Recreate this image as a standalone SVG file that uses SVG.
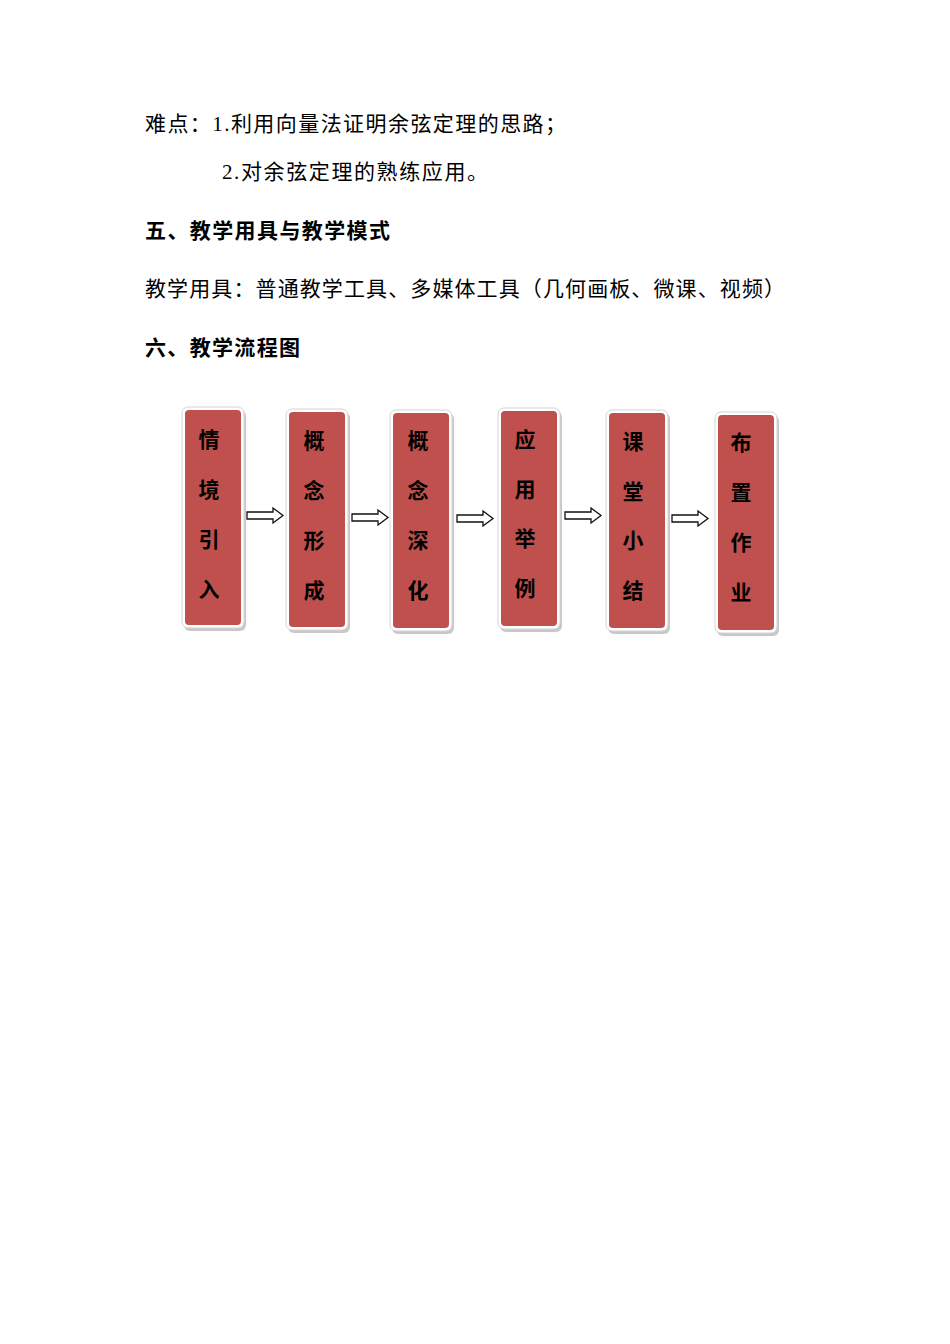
<svg xmlns="http://www.w3.org/2000/svg" width="950" height="1344" viewBox="0 0 950 1344">
<style>
.t{font-family:"Liberation Serif","Noto Sans CJK SC",serif;font-size:21px;fill:#000}
.h{font-family:"Liberation Serif","Noto Sans CJK SC",sans-serif;font-size:21px;font-weight:bold;fill:#000}
.bx{fill:#C0504D}
.wb{fill:#fff;stroke:#d4d4d4;stroke-width:1}
.sh{fill:#9a9a9a;opacity:0.55}
.lb{font-family:"Noto Sans CJK SC",sans-serif;font-size:21px;font-weight:bold;fill:#000;text-anchor:middle}
.ar{fill:#fff;stroke:#111;stroke-width:1.3;stroke-linejoin:miter}
</style>
<rect width="950" height="1344" fill="#fff"/>
<text class="t" x="145" y="131" textLength="421" lengthAdjust="spacing">难点：1.利用向量法证明余弦定理的思路；</text>
<text class="t" x="222" y="179" textLength="266" lengthAdjust="spacing">2.对余弦定理的熟练应用。</text>
<text class="h" x="145" y="238" textLength="245">五、教学用具与教学模式</text>
<text class="t" x="145" y="296" textLength="640">教学用具：普通教学工具、多媒体工具（几何画板、微课、视频）</text>
<text class="h" x="145" y="355" textLength="155">六、教学流程图</text>

<g id="n1">
<rect class="sh" x="184" y="410" width="62" height="221" rx="6"/>
<rect class="wb" x="182" y="407" width="62" height="221" rx="6"/>
<rect class="bx" x="185" y="410" width="56" height="215" rx="4"/>
<text class="lb" x="209" y="447">情</text><text class="lb" x="209" y="497">境</text><text class="lb" x="209" y="547">引</text><text class="lb" x="209" y="597">入</text>
</g>
<g id="n2">
<rect class="sh" x="288" y="412" width="62" height="221" rx="6"/>
<rect class="wb" x="286" y="409" width="62" height="221" rx="6"/>
<rect class="bx" x="289" y="412" width="56" height="215" rx="4"/>
<text class="lb" x="314" y="448">概</text><text class="lb" x="314" y="498">念</text><text class="lb" x="314" y="548">形</text><text class="lb" x="314" y="598">成</text>
</g>
<g id="n3">
<rect class="sh" x="392" y="413" width="62" height="221" rx="6"/>
<rect class="wb" x="390" y="410" width="62" height="221" rx="6"/>
<rect class="bx" x="393" y="413" width="56" height="215" rx="4"/>
<text class="lb" x="418" y="448">概</text><text class="lb" x="418" y="498">念</text><text class="lb" x="418" y="548">深</text><text class="lb" x="418" y="598">化</text>
</g>
<g id="n4">
<rect class="sh" x="500" y="411" width="62" height="221" rx="6"/>
<rect class="wb" x="498" y="408" width="62" height="221" rx="6"/>
<rect class="bx" x="501" y="411" width="56" height="215" rx="4"/>
<text class="lb" x="525" y="447">应</text><text class="lb" x="525" y="497">用</text><text class="lb" x="525" y="546">举</text><text class="lb" x="525" y="596">例</text>
</g>
<g id="n5">
<rect class="sh" x="608" y="413" width="62" height="221" rx="6"/>
<rect class="wb" x="606" y="410" width="62" height="221" rx="6"/>
<rect class="bx" x="609" y="413" width="56" height="215" rx="4"/>
<text class="lb" x="633" y="449">课</text><text class="lb" x="633" y="499">堂</text><text class="lb" x="633" y="548">小</text><text class="lb" x="633" y="598">结</text>
</g>
<g id="n6">
<rect class="sh" x="717" y="415" width="62" height="221" rx="6"/>
<rect class="wb" x="715" y="412" width="62" height="221" rx="6"/>
<rect class="bx" x="718" y="415" width="56" height="215" rx="4"/>
<text class="lb" x="741" y="450">布</text><text class="lb" x="741" y="500">置</text><text class="lb" x="741" y="550">作</text><text class="lb" x="741" y="600">业</text>
</g>

<g id="connectors">
<polygon class="ar" points="247,512 273,512 273,508 283,515.5 273,523 273,519 247,519"/>
<polygon class="ar" points="352,514 378,514 378,510 388,517.5 378,525 378,521 352,521"/>
<polygon class="ar" points="457,515 483,515 483,511 493,518.5 483,526 483,522 457,522"/>
<polygon class="ar" points="565,512 591,512 591,508 601,515.5 591,523 591,519 565,519"/>
<polygon class="ar" points="672,515 698,515 698,511 708,518.5 698,526 698,522 672,522"/>
</g>
</svg>
